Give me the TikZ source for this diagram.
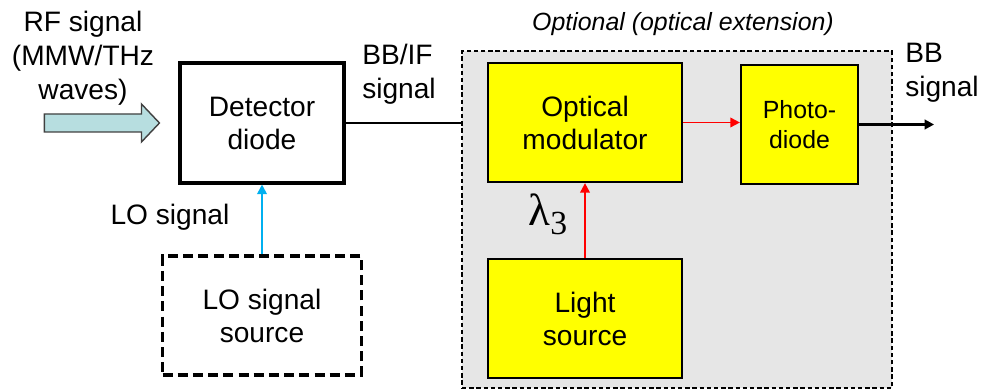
\documentclass[tikz,border=0pt]{standalone}
\usepackage{fontspec}
\setmainfont{Liberation Sans}
\newfontfamily\lamfont{Liberation Serif}
\usetikzlibrary{calc,arrows.meta}
\definecolor{optgray}{HTML}{E6E6E6}
\definecolor{rfcyan}{HTML}{B7DEE0}
\definecolor{loblue}{HTML}{00B0F0}
\definecolor{boxyellow}{HTML}{FFFF00}

\begin{document}
\begin{tikzpicture}[x=0.25mm, y=-0.25mm,
    blk/.style={draw, rectangle, align=center, inner sep=0pt, font=\fontsize{20}{23.5}\selectfont},
    optblk/.style={blk, fill=boxyellow, line width=1.6pt, minimum width=48.5mm, minimum height=29.75mm},
    lbl/.style={inner sep=0pt, font=\fontsize{20}{24}\selectfont},
    sig/.style={-{Triangle[length=2.4mm, width=2.4mm]}, line width=1.4pt}]
        \useasboundingbox (0,0) rectangle (995,389);
        % オプション領域
        \node[draw, dashed, dash pattern=on 1.1mm off 0.7mm, fill=optgray, line width=0.8pt, minimum width=107.5mm, minimum height=84.25mm, inner sep=0pt] (Opt) at (677,219.5) {};
        \node[lbl, font=\fontsize{17.7}{20}\selectfont\itshape] (OptTitle) at (683,24) {Optional (optical extension)};
        % 各ブロック
        \node[blk, line width=2.2pt, minimum width=41mm, minimum height=30mm] (Det) at (262,123) {Detector\\diode};
        \node[blk, line width=2.2pt, dash pattern=on 2.5mm off 1.3mm, minimum width=49.75mm, minimum height=29.75mm] (LOsrc) at (262,315.5) {LO signal\\source};
        \node[optblk] (Mod) at (585,122.5) {Optical\\modulator};
        \node[optblk] (Light) at (585,318.5) {Light\\source};
        \node[optblk, minimum width=29.25mm, font=\fontsize{17.7}{21}\selectfont] (PD) at (799.5,124.5) {Photo-\\diode};
        % ラベル
        \node[lbl, align=center] (RFlbl) at (83,58) {RF signal\\(MMW/THz\\waves)};
        \node[lbl, align=left] (BBIFlbl) at (399,74) {BB/IF\\signal};
        \node[lbl] (LOlbl) at (170,217) {LO signal};
        \node[lbl, align=left] (BBlbl) at (942,73) {BB\\signal};
        \node[inner sep=0pt, font=\lamfont\fontsize{32}{34}\selectfont] (Lam) at (548,214)
            {λ\raisebox{-6.4pt}{\fontsize{24}{24}\selectfont 3}};
        % RF入力の太矢印
        \coordinate (RFtip) at ($(Det.west) + (-19,0)$);
        \draw[fill=rfcyan, draw=black!75, line width=1pt]
            ($(RFtip) + (-115,-9)$) -- ($(RFtip) + (-18,-9)$) -- ($(RFtip) + (-18,-19)$) -- (RFtip)
            -- ($(RFtip) + (-18,19)$) -- ($(RFtip) + (-18,9)$) -- ($(RFtip) + (-115,9)$) -- cycle;
        % 矢印で接続
        \draw[line width=2pt] (Det.east) -- (Det.east -| Opt.west);
        \draw[sig, loblue] (LOsrc.north) -- (Det.south);
        \draw[sig, red] (Light.north) -- (Mod.south);
        \draw[sig, red] (Mod.east) -- (Mod.east -| PD.west);
        \coordinate (BBout) at ($(PD.east) + (75,0)$);
        \draw[sig, line width=2pt] (PD.east) -- (BBout);
    \end{tikzpicture}
\end{document}
